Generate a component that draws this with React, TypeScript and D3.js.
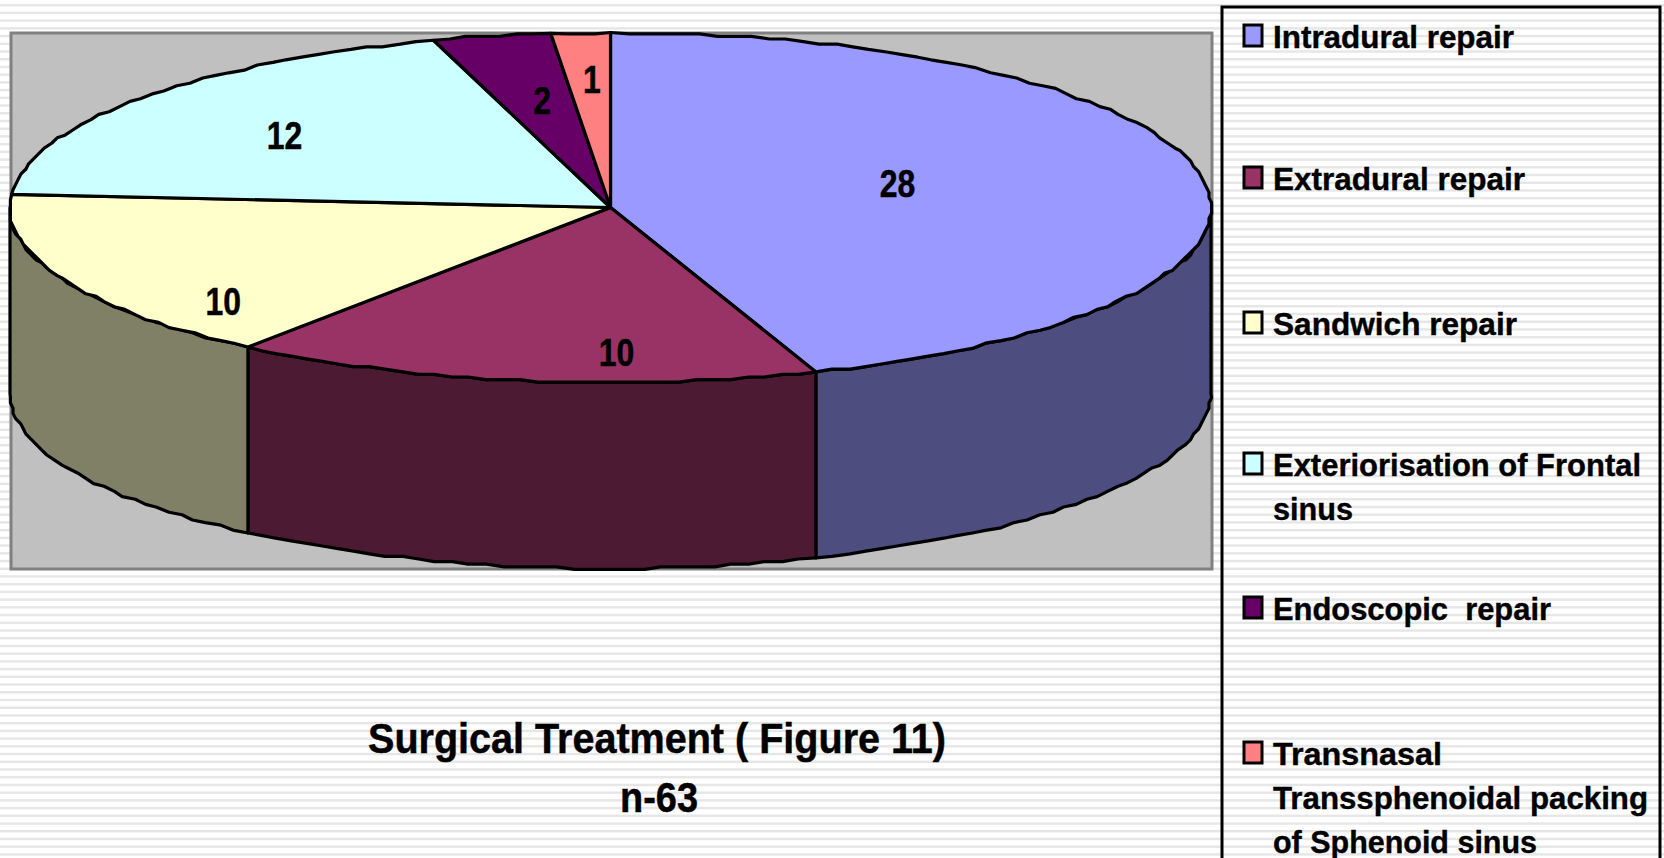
import * as d3 from "d3";

const width = 1664;
const height = 858;

const categories = [
  "Intradural repair",
  "Extradural repair",
  "Sandwich repair",
  "Exteriorisation of Frontal sinus",
  "Endoscopic  repair",
  "Transnasal Transsphenoidal packing of Sphenoid sinus",
];
const values = [28, 10, 10, 12, 2, 1];
const colors = ["#9999ff", "#993366", "#ffffcc", "#ccffff", "#660066", "#ff8080"];
const sideColors = ["#4d4d80", "#4d1a33", "#808066", "#668080", "#330033", "#804040"];

const legendLines = [
  ["Intradural repair"],
  ["Extradural repair"],
  ["Sandwich repair"],
  ["Exteriorisation of Frontal", "sinus"],
  ["Endoscopic  repair"],
  ["Transnasal", "Transsphenoidal packing", "of Sphenoid sinus"],
];
// text widths as measured on the reference, its font runs a bit narrower
const legendWidths = [[241], [252], [244], [368, 80], [278], [169, 375, 264]];
const legendBaselines = [48, 190, 335, 476, 620, 765];
const legendLineStep = 44;

// label spots in pie units (-1..1), Excel does not put them on the centroid
const labelSpots = [
  [0.478, -0.136],
  [0.01, 0.825],
  [-0.645, 0.535],
  [-0.543, -0.41],
  [-0.114, -0.61],
  [-0.031, -0.73],
];

const plot = { x: 11, y: 33, w: 1201, h: 536 };
const cx = 610.5;
const cy = 207.5;
const rx = 600.5;
const ry = 175;
const depth = 186;

const xScale = d3.scaleLinear().domain([-1, 1]).range([cx - rx, cx + rx]);
const yScale = d3.scaleLinear().domain([-1, 1]).range([cy - ry, cy + ry]);

const slices = d3.pie<number>().sort(null)(values);

// the original is a low-res bitmap scaled up, so its outline steps a little
const snap = (v: number) => Math.round(v / 2.6) * 2.6;
const rimPoints = (a0: number, a1: number, dy = 0): [number, number][] => {
  const n = Math.max(1, Math.ceil(Math.abs(a1 - a0) / 0.03));
  const pts: [number, number][] = d3.range(n + 1).map((i) => {
    const a = a0 + ((a1 - a0) * i) / n;
    const p: [number, number] = [xScale(Math.sin(a)), yScale(-Math.cos(a)) + dy];
    return i === 0 || i === n ? p : [snap(p[0]), snap(p[1])];
  });
  return pts;
};

const line = d3.line();
const topPath = (s: d3.PieArcDatum<number>) =>
  line([[cx, cy], ...rimPoints(s.startAngle, s.endAngle)]) + "Z";

// only the front half of the wall can be seen
const sidePath = (s: d3.PieArcDatum<number>) => {
  const a0 = Math.max(s.startAngle, Math.PI / 2);
  const a1 = Math.min(s.endAngle, (3 * Math.PI) / 2);
  if (a1 <= a0) return null;
  return line([...rimPoints(a0, a1), ...rimPoints(a1, a0, depth)]) + "Z";
};

const stripes = d3.range(4, height, 7.72);

const font = "'Liberation Sans', Arial, sans-serif";

const App = () => {
  return (
    <svg
      width={width}
      height={height}
      style={{ position: "absolute", left: 0, top: 0, background: "#fff" }}
    >
      {stripes.map((y) => (
        <rect key={y} x={0} y={y} width={width} height={2.4} fill="#e6e6e6" />
      ))}

      <rect
        x={plot.x}
        y={plot.y}
        width={plot.w}
        height={plot.h}
        fill="#c0c0c0"
        stroke="#808080"
        strokeWidth={3}
      />

      {slices.map((s, i) => {
        const d = sidePath(s);
        return d ? (
          <path key={i} d={d} fill={sideColors[i]} stroke="#000" strokeWidth={3.2} strokeLinejoin="round" />
        ) : null;
      })}
      {slices.map((s, i) => (
        <path key={i} d={topPath(s)} fill={colors[i]} stroke="#000" strokeWidth={3.2} strokeLinejoin="round" />
      ))}

      {values.map((v, i) => (
        <text
          key={i}
          transform={`translate(${xScale(labelSpots[i][0])},${yScale(labelSpots[i][1])}) scale(0.84,1)`}
          textAnchor="middle"
          dy="0.36em"
          fontFamily={font}
          fontWeight="bold"
          fontSize={38}
          stroke="#000"
          strokeWidth={0.5}
        >
          {v}
        </text>
      ))}

      <text
        x={657}
        y={753}
        textAnchor="middle"
        textLength={578}
        lengthAdjust="spacingAndGlyphs"
        fontFamily={font}
        fontWeight="bold"
        fontSize={43}
        stroke="#000"
        strokeWidth={0.5}
      >
        Surgical Treatment ( Figure 11)
      </text>
      <text
        x={659}
        y={812}
        textAnchor="middle"
        textLength={78}
        lengthAdjust="spacingAndGlyphs"
        fontFamily={font}
        fontWeight="bold"
        fontSize={43}
        stroke="#000"
        strokeWidth={0.5}
      >
        n-63
      </text>

      <rect x={1222} y={7} width={438} height={height} fill="none" stroke="#000" strokeWidth={3} />
      {categories.map((c, i) => (
        <g key={c}>
          <rect
            x={1244}
            y={legendBaselines[i] - 23}
            width={18}
            height={21}
            fill={colors[i]}
            stroke="#000"
            strokeWidth={3}
          />
          {legendLines[i].map((t, j) => (
            <text
              key={j}
              x={1273}
              y={legendBaselines[i] + j * legendLineStep}
              textLength={legendWidths[i][j]}
              lengthAdjust="spacingAndGlyphs"
              fontFamily={font}
              fontWeight="bold"
              fontSize={32}
              stroke="#000"
              strokeWidth={0.4}
              xmlSpace="preserve"
            >
              {t}
            </text>
          ))}
        </g>
      ))}
    </svg>
  );
};

export default App;
